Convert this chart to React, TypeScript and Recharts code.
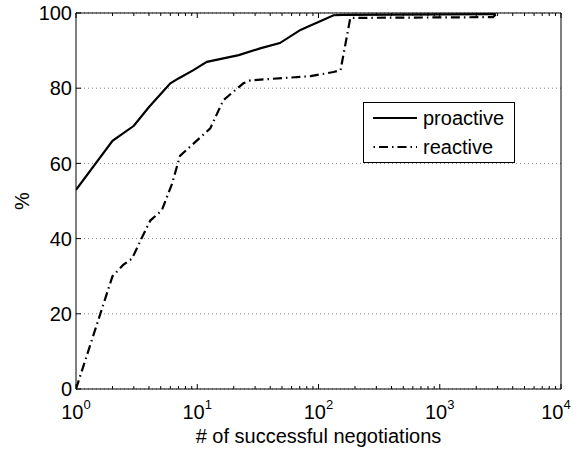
import React from 'react';
import { LineChart, Line, XAxis, YAxis, CartesianGrid, Legend } from 'recharts';

// Cumulative share (%) of agents vs. number of successful negotiations
const proactiveX = [1, 2, 3, 4, 6, 7, 9.3, 12, 22, 33, 48, 71, 85, 100, 133, 160, 2900];
const proactiveY = [53, 66, 70, 75, 81.3, 82.6, 84.8, 87, 88.8, 90.6, 92, 95.5, 96.6, 97.6, 99.4, 99.5, 99.7];

const reactiveX = [1, 2, 2.45, 2.9, 3.5, 4.1, 5.1, 6.2, 7.2, 12.8, 14.6, 16.4, 24, 27.5, 86, 133, 152, 183, 2750, 2900];
const reactiveY = [0, 30, 33, 34.7, 40.3, 44.8, 47.5, 54.6, 62, 69.3, 73.3, 76.8, 81.3, 82.1, 83.2, 84.3, 84.8, 98.7, 98.9, 99.6];

const yTicks = [0, 20, 40, 60, 80, 100];
const decadeTicks = [1, 10, 100, 1000, 10000];
const minorMultipliers = [2, 3, 4, 5, 6, 7, 8, 9];

const seriesNames = ['proactive', 'reactive'];

const proactiveData = proactiveX.map((x, i) => ({ x, y: proactiveY[i] }));
const reactiveData = reactiveX.map((x, i) => ({ x, y: reactiveY[i] }));

const xTicks = [
  ...decadeTicks,
  ...decadeTicks.slice(0, -1).flatMap((d) => minorMultipliers.map((m) => m * d)),
].sort((a, b) => a - b);

const FONT = '"Liberation Sans", Arial, Helvetica, sans-serif';
const FS = 20;
const DASH_DOT = '9 4 1.5 4';

const isDecade = (v: number) => {
  const e = Math.round(Math.log10(v));
  return Math.abs(Math.pow(10, e) - v) < 1e-6;
};

const BottomTick = (props: any) => {
  const { x, y, payload } = props;
  const v = payload.value;
  const major = isDecade(v);
  const exp = Math.round(Math.log10(v));
  // keep the last decade label inside the figure edge
  const lx = v === decadeTicks[decadeTicks.length - 1] ? x - 5 : x;
  return (
    <g>
      <line x1={x} x2={x} y1={y} y2={y - (major ? 5 : 3)} stroke="#000" strokeWidth={1} />
      {major && (
        <text x={lx} y={y + 30} textAnchor="middle" fontFamily={FONT} fontSize={FS} fill="#000">
          <tspan>10</tspan>
          <tspan dy={-10} fontSize={13}>{exp}</tspan>
        </text>
      )}
    </g>
  );
};

const TopTick = (props: any) => {
  const { x, y, payload } = props;
  const major = isDecade(payload.value);
  return <line x1={x} x2={x} y1={y} y2={y + (major ? 5 : 3)} stroke="#000" strokeWidth={1} />;
};

const LeftTick = (props: any) => {
  const { x, y, payload } = props;
  return (
    <g>
      <line x1={x} x2={x + 5} y1={y} y2={y} stroke="#000" strokeWidth={1} />
      <text x={x - 4} y={y} dy="0.36em" textAnchor="end" fontFamily={FONT} fontSize={FS} fill="#000">
        {payload.value}
      </text>
    </g>
  );
};

const RightTick = (props: any) => {
  const { x, y } = props;
  return <line x1={x} x2={x - 5} y1={y} y2={y} stroke="#000" strokeWidth={1} />;
};

const XTitle = (props: any) => {
  const vb = props.viewBox || {};
  return (
    <text x={vb.x + vb.width / 2} y={vb.y + 54} textAnchor="middle" fontFamily={FONT} fontSize={FS} fill="#000">
      # of successful negotiations
    </text>
  );
};

const YTitle = (props: any) => {
  const vb = props.viewBox || {};
  const cx = vb.x + 6;
  const cy = vb.y + vb.height / 2;
  return (
    <text x={cx} y={cy} transform={`rotate(-90 ${cx} ${cy})`} textAnchor="middle" dy="0.36em" fontFamily={FONT} fontSize={FS} fill="#000">
      %
    </text>
  );
};

const LegendBox = () => (
  <svg width={152} height={61} style={{ display: 'block' }}>
    <rect x={0.5} y={0.5} width={151} height={60} fill="#fff" stroke="#000" strokeWidth={1} />
    <line x1={10} x2={54} y1={16} y2={16} stroke="#000" strokeWidth={2.2} />
    <text x={60} y={16} dy="0.36em" fontFamily={FONT} fontSize={FS} fill="#000">{seriesNames[0]}</text>
    <line x1={10} x2={54} y1={45} y2={45} stroke="#000" strokeWidth={2.2} strokeDasharray={DASH_DOT} strokeDashoffset={-6} />
    <text x={60} y={45} dy="0.36em" fontFamily={FONT} fontSize={FS} fill="#000">{seriesNames[1]}</text>
  </svg>
);

export default function App() {
  return (
    <div style={{ position: 'absolute', left: 0, top: 0, background: '#fff' }}>
      <LineChart width={574} height={449} margin={{ top: 12, right: 12, bottom: 20, left: 16 }}>
        <CartesianGrid xAxisId="bottom" yAxisId="left" vertical={false} stroke="#888" strokeDasharray="1 3" />
        <XAxis
          xAxisId="bottom"
          dataKey="x"
          type="number"
          scale="log"
          domain={[1, 10000]}
          allowDataOverflow
          ticks={xTicks}
          interval={0}
          height={40}
          tickSize={0}
          tickMargin={0}
          tickLine={false}
          tick={<BottomTick />}
          axisLine={{ stroke: '#000', strokeWidth: 1 }}
          label={<XTitle />}
        />
        <XAxis
          xAxisId="top"
          orientation="top"
          dataKey="x"
          type="number"
          scale="log"
          domain={[1, 10000]}
          allowDataOverflow
          ticks={xTicks}
          interval={0}
          height={1}
          tickSize={0}
          tickMargin={0}
          tickLine={false}
          tick={<TopTick />}
          axisLine={{ stroke: '#000', strokeWidth: 1 }}
        />
        <YAxis
          yAxisId="left"
          type="number"
          domain={[0, 100]}
          ticks={yTicks}
          interval={0}
          width={60}
          tickSize={0}
          tickMargin={0}
          tickLine={false}
          tick={<LeftTick />}
          axisLine={{ stroke: '#000', strokeWidth: 1 }}
          label={<YTitle />}
        />
        <YAxis
          yAxisId="right"
          orientation="right"
          type="number"
          domain={[0, 100]}
          ticks={yTicks}
          interval={0}
          width={1}
          tickSize={0}
          tickMargin={0}
          tickLine={false}
          tick={<RightTick />}
          axisLine={{ stroke: '#000', strokeWidth: 1 }}
        />
        <Line
          xAxisId="bottom"
          yAxisId="left"
          data={proactiveData}
          dataKey="y"
          name={seriesNames[0]}
          type="linear"
          stroke="#000"
          strokeWidth={2.2}
          dot={false}
          isAnimationActive={false}
        />
        <Line
          xAxisId="bottom"
          yAxisId="left"
          data={reactiveData}
          dataKey="y"
          name={seriesNames[1]}
          type="linear"
          stroke="#000"
          strokeWidth={2.2}
          strokeDasharray={DASH_DOT}
          dot={false}
          isAnimationActive={false}
        />
        <Legend
          layout="horizontal"
          verticalAlign="middle"
          align="center"
          content={<LegendBox />}
          wrapperStyle={{ position: 'absolute', left: 363, top: 102, width: 152, height: 61 }}
        />
      </LineChart>
    </div>
  );
}
